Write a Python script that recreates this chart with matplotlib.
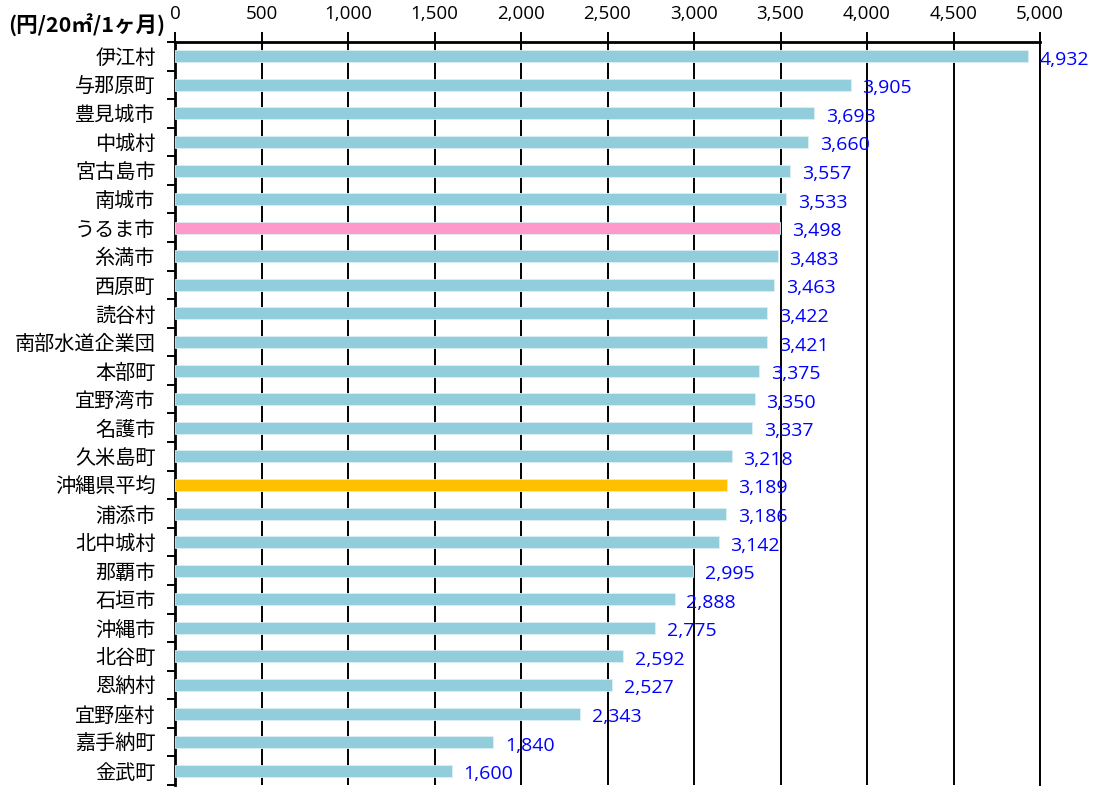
import matplotlib
matplotlib.use("Agg")
import matplotlib.pyplot as plt
from matplotlib.ticker import FixedLocator, FuncFormatter

plt.rcParams['font.family'] = ['Noto Sans CJK JP', 'DejaVu Sans']

categories = ["伊江村", "与那原町", "豊見城市", "中城村", "宮古島市", "南城市", "うるま市",
              "糸満市", "西原町", "読谷村", "南部水道企業団", "本部町", "宜野湾市", "名護市",
              "久米島町", "沖縄県平均", "浦添市", "北中城村", "那覇市", "石垣市", "沖縄市",
              "北谷町", "恩納村", "宜野座村", "嘉手納町", "金武町"]
values = [4932, 3905, 3693, 3660, 3557, 3533, 3498, 3483, 3463, 3422, 3421, 3375, 3350,
          3337, 3218, 3189, 3186, 3142, 2995, 2888, 2775, 2592, 2527, 2343, 1840, 1600]
x_ticks = [0, 500, 1000, 1500, 2000, 2500, 3000, 3500, 4000, 4500, 5000]
unit_label = "(円/20㎡/1ヶ月)"

base_color = "#92CDDC"
highlight = {"うるま市": "#FF99CC", "沖縄県平均": "#FFC000"}
colors = [highlight.get(c, base_color) for c in categories]

num_font = ['Open Sans', 'DejaVu Sans']

fig = plt.figure(figsize=(10.95, 7.87), dpi=100)
ax = fig.add_axes([175 / 1095, 2 / 787, 865 / 1095, 743 / 787])

ypos = list(range(len(categories)))
ax.barh(ypos, values, height=0.42, color=colors, edgecolor='#DDEFF4', linewidth=0.6, zorder=3)

ax.set_xlim(0, 5000)
ax.set_ylim(len(categories) - 0.5, -0.5)

# vertical grid lines
ax.xaxis.set_major_locator(FixedLocator(x_ticks))
ax.xaxis.set_major_formatter(FuncFormatter(lambda v, p: f"{int(v):,}"))
ax.grid(axis='x', color='black', linewidth=1.4, zorder=1)
ax.xaxis.tick_top()
ax.tick_params(axis='x', which='major', direction='out', length=7, width=1.4,
               labelsize=13.5, pad=7, colors='black')
for lbl in ax.get_xticklabels():
    lbl.set_fontfamily(num_font)

# category labels, with tick marks between bars
ax.set_yticks(ypos)
ax.set_yticklabels(categories, fontsize=14.5)
ax.tick_params(axis='y', which='major', length=0, pad=14)
ax.yaxis.set_minor_locator(FixedLocator([i - 0.5 for i in range(len(categories) + 1)]))
ax.tick_params(axis='y', which='minor', direction='out', length=6, width=1.4)

for side in ['top', 'left']:
    ax.spines[side].set_linewidth(2)
ax.spines['bottom'].set_visible(False)
ax.spines['right'].set_linewidth(1.4)

# value labels
for y, v in zip(ypos, values):
    ax.annotate(f"{v:,}", xy=(v, y), xytext=(8.5, -2.5), textcoords='offset points',
                ha='left', va='center', color='#0000FF', fontsize=14,
                fontfamily=num_font, clip_on=False, zorder=4)

fig.text(8 / 1095, 1 - 25 / 787, unit_label, fontsize=15.5, fontweight='bold',
         ha='left', va='center')

fig.savefig("out.png", dpi=100)
